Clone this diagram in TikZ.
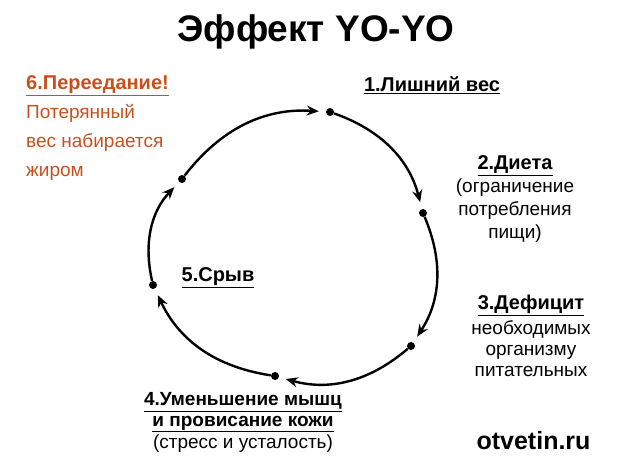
\documentclass[tikz,border=0pt]{standalone}
\usepackage{fontspec}
\setmainfont{Liberation Sans}
\usetikzlibrary{arrows.meta}
\definecolor{rust}{RGB}{200,80,30}
\begin{document}
\begin{tikzpicture}[x=1pt,y=-1pt,
  dot/.style={circle,fill=black,inner sep=0pt,minimum size=8pt},
  arc/.style={line width=2.4pt,-{Stealth[length=12pt,width=10pt]},shorten >=7pt,bend left=28},
  lbl/.style={font=\fontsize{20}{22}\selectfont\bfseries},
  txt/.style={font=\fontsize{19}{23}\selectfont,align=center}]
\useasboundingbox[fill=white] (0,0) rectangle (620,465);
\node[font=\fontsize{37}{40}\selectfont\bfseries] (title) at (316,32) {Эффект YO-YO};
\node[dot] (p1) at (330,112) {};
\node[dot] (p2) at (423,213) {};
\node[dot] (p3) at (411,346) {};
\node[dot] (p4) at (275,376) {};
\node[dot] (p5) at (153,285) {};
\node[dot] (p6) at (182,179) {};
\draw[arc] (p1) to (p2);
\draw[arc] (p2) to (p3);
\draw[arc] (p3) to (p4);
\draw[arc] (p4) to (p5);
\draw[arc] (p5) to (p6);
\draw[arc] (p6) to (p1);
\node[lbl] (l1) at (432,85) {\underline{1.Лишний вес}};
\node[lbl] (l2) at (515,166) {\underline{2.Диета}};
\node[txt] (t2) at (515,211) {(ограничение\\потребления\\пищи)};
\node[lbl] (l3) at (531,305) {\underline{3.Дефицит}};
\node[txt,font=\fontsize{19}{21}\selectfont] (t3) at (531,349) {необходимых\\организму\\питательных};
\node[lbl,font=\fontsize{19}{21}\selectfont\bfseries,inner sep=0pt] (l4) at (243,402) {\underline{4.Уменьшение мышц}};
\node[lbl,font=\fontsize{19}{21}\selectfont\bfseries,inner sep=0pt] (l4b) at (243,424) {\underline{и провисание кожи}};
\node[txt,inner sep=0pt] (t4) at (243,444) {(стресс и усталость)};
\node[lbl] (l5) at (218,278) {\underline{5.Срыв}};
\node[lbl,text=rust,anchor=west,inner sep=0pt] (l6) at (26,86) {\underline{6.Переедание!}};
\node[txt,text=rust,anchor=north west,align=left,font=\fontsize{19}{29}\selectfont,inner sep=0pt] (t6) at (26,104) {Потерянный\\вес набирается\\жиром};
\node[font=\fontsize{25}{27}\selectfont\bfseries,anchor=east] (wm) at (594,441) {otvetin.ru};
\end{tikzpicture}
\end{document}
